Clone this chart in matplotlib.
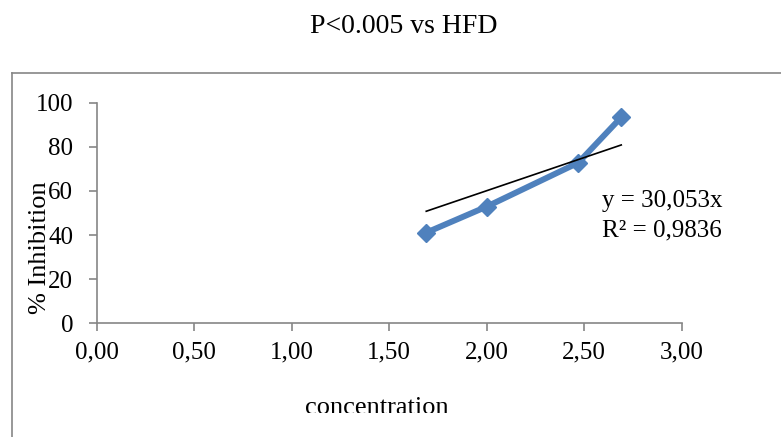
import matplotlib
matplotlib.use("Agg")
import matplotlib.pyplot as plt
from matplotlib.lines import Line2D
from matplotlib.patches import Rectangle
from matplotlib.ticker import FixedLocator, FuncFormatter

plt.rcParams["font.family"] = ["Liberation Serif", "DejaVu Serif"]

concentration = [1.69, 2.00, 2.47, 2.69]
inhibition = [41.1, 52.9, 72.8, 93.4]
slope = 30.053
r_squared = 0.9836
x_ticks = [0.0, 0.5, 1.0, 1.5, 2.0, 2.5, 3.0]
y_ticks = [0, 20, 40, 60, 80, 100]

W, H = 781, 437
fig = plt.figure(figsize=(W / 100, H / 100), dpi=100)
ax = fig.add_axes([96.7 / W, 1 - 323.3 / H, 585 / W, 220.6 / H])

blue = "#4F81BD"
gray = "#868686"

ax.plot(concentration, inhibition, color=blue, lw=4.3, marker="D",
        markersize=9.5, markerfacecolor=blue, markeredgecolor=blue, zorder=2)

fit_x = [min(concentration), max(concentration)]
fit_y = [slope * v for v in fit_x]
ax.plot(fit_x, fit_y, color="black", lw=1.2, zorder=3)

ax.set_xlim(0, 3)
ax.set_ylim(0, 100)
ax.xaxis.set_major_locator(FixedLocator(x_ticks))
ax.yaxis.set_major_locator(FixedLocator(y_ticks))
ax.xaxis.set_major_formatter(FuncFormatter(lambda v, p: f"{v:.2f}".replace(".", ",")))
ax.yaxis.set_major_formatter(FuncFormatter(lambda v, p: f"{v:.0f}"))

for s in ["top", "right"]:
    ax.spines[s].set_visible(False)
for s in ["left", "bottom"]:
    ax.spines[s].set_color(gray)
    ax.spines[s].set_linewidth(1.2)

ax.tick_params(axis="both", direction="out", length=5.8, width=1.2,
               color=gray, labelsize=18, labelcolor="black")
ax.tick_params(axis="x", pad=7)
ax.tick_params(axis="y", pad=11)

fig.text(404 / W, 1 - 33 / H, "P<0.005 vs HFD", ha="center", va="baseline", fontsize=20)
fig.text(40 / W, 1 - 248 / H, "% Inhibition", ha="center", va="center",
         rotation=90, fontsize=19)
fig.text(377 / W, 1 - 414 / H, "concentration", ha="center", va="baseline", fontsize=19)

fig.text(602 / W, 1 - 206.7 / H, f"y = {slope:.3f}x".replace(".", ","),
         ha="left", va="baseline", fontsize=18)
fig.text(602 / W, 1 - 236.7 / H, f"R² = {r_squared:.4f}".replace(".", ","),
         ha="left", va="baseline", fontsize=18)

# chart area is cut off at the bottom
cover = Rectangle((0, 0), 1, 1 - 413 / H, transform=fig.transFigure,
                  facecolor="white", edgecolor="none", zorder=10)
fig.patches.append(cover)

fig.lines.append(Line2D([11.5 / W, 11.5 / W], [0, 1 - 72.7 / H],
                        transform=fig.transFigure, color=gray, lw=1.2, zorder=11))
fig.lines.append(Line2D([11.5 / W, 1], [1 - 72.7 / H, 1 - 72.7 / H],
                        transform=fig.transFigure, color=gray, lw=1.2, zorder=11))

fig.savefig("out.png", dpi=100)
